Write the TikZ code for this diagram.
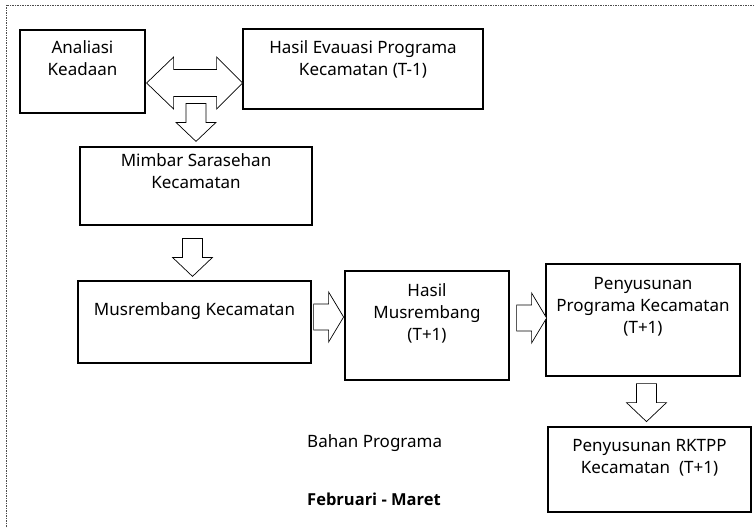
\documentclass[tikz,border=0pt]{standalone}
\usepackage{fontspec}
\setmainfont{Noto Sans}
\newfontfamily\boldsans{Open Sans}
\usetikzlibrary{calc}

% block arrows
\newcommand{\arrright}[1]{\draw[blk,shift={($#1$)}] (0,-13) -- (15,-13) -- (15,-25) -- (30,0) -- (15,25) -- (15,13) -- (0,13) -- cycle;}
\newcommand{\arrdown}[1]{\draw[blk,shift={($#1$)}] (-10,0) -- (-10,19) -- (-20,19) -- (0,38) -- (20,19) -- (10,19) -- (10,0) -- cycle;}

\begin{document}
\begin{tikzpicture}
	[x=1pt,y=-1pt,
	 box/.style={draw, line width=1.2pt, inner sep=0pt},
	 lbl/.style={anchor=north, align=center, inner sep=0pt, font=\fontsize{17}{22}\selectfont},
	 txt/.style={inner sep=0pt, anchor=base west, font=\fontsize{17}{22}\selectfont},
	 blk/.style={draw, line width=0.7pt, fill=white},
	 frame/.style={draw=black!70, dash pattern=on 1.5pt off 1pt, line width=0.8pt}]
	\useasboundingbox (0,0) rectangle (754,527);
	\draw[frame] (6,5) rectangle (770,540);
	
	\node[box, minimum width=125pt, minimum height=83pt, label={[lbl,yshift=-11pt]north:Analiasi\\Keadaan}] (ana) at (82.5,71.5) {};
	\node[box, minimum width=240pt, minimum height=80pt, label={[lbl,yshift=-12pt]north:Hasil Evauasi Programa\\Kecamatan (T-1)}] (hasil) at (363,69) {};
	\node[box, minimum width=232pt, minimum height=78pt, label={[lbl,yshift=-7pt]north:Mimbar Sarasehan\\Kecamatan}] (mim) at (196,186) {};
	\node[box, minimum width=233pt, minimum height=82pt, label={[lbl,yshift=-22pt]north:Musrembang Kecamatan}] (mus) at (194.5,322) {};
	\node[box, minimum width=164pt, minimum height=109pt, label={[lbl,yshift=-13pt]north:Hasil\\Musrembang\\(T+1)}] (hm) at (427,325.5) {};
	\node[box, minimum width=194pt, minimum height=112pt, label={[lbl,yshift=-14pt]north:Penyusunan\\Programa Kecamatan\\(T+1)}] (pp) at (643,320) {};
	\node[box, minimum width=203pt, minimum height=85pt, label={[lbl,yshift=-13pt]north:Penyusunan RKTPP\\Kecamatan \ (T+1)}] (rk) at (649.5,469.5) {};
	
	\node[txt] (bahan) at (307,447) {Bahan Programa};
	\node[txt, font=\fontsize{16.5}{22}\boldsans\bfseries] (bulan) at (307,505) {Februari - Maret};
	
	\draw[blk] ($(ana.east)+(1,11.5)$) -- ++(27,-26) -- ++(0,12.5) -- ++(43,0) -- ++(0,-12.5)
		-- ++(26,26) -- ++(-26,26) -- ++(0,-12.5) -- ++(-43,0) -- ++(0,12.5) -- cycle;
	\arrdown{(mim.north)+(0,-43)}
	\arrdown{(mus.north)+(-2,-42)}
	\arrright{(mus.east)+(2,-5)}
	\arrright{(hm.east)+(7,-7.5)}
	\arrdown{(pp.south)+(3.5,7)}
\end{tikzpicture}
\end{document}
